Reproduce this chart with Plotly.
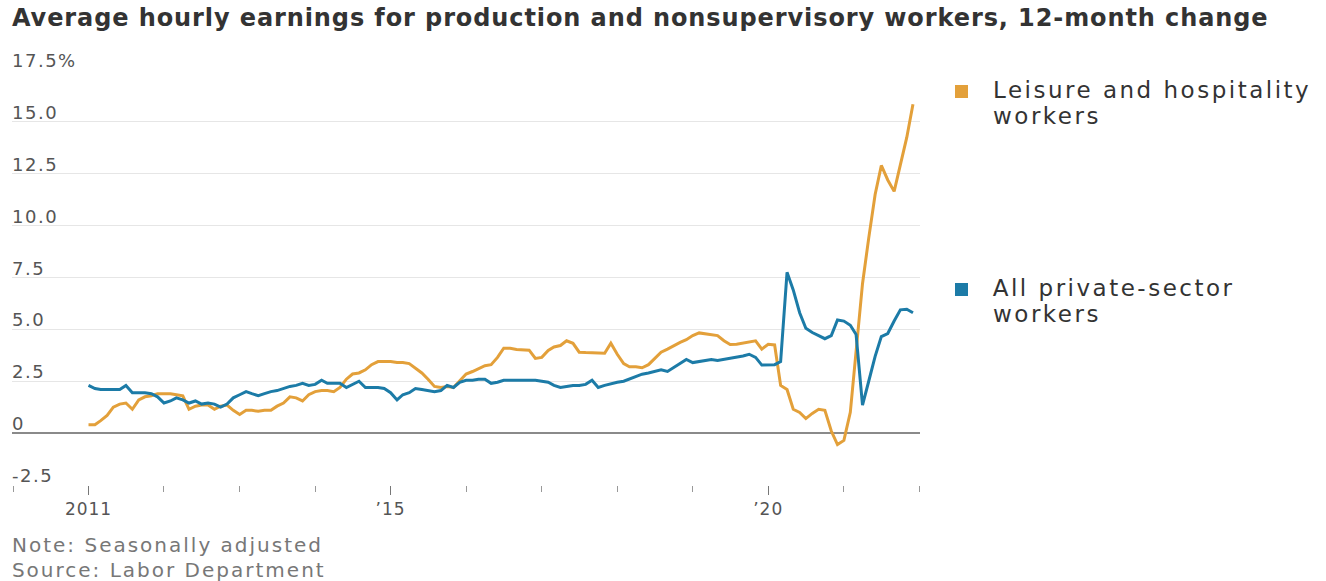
import json

import pandas as pd
import plotly.graph_objects as go

# Monthly 12-month % change, Jan 2011 - Dec 2021
START_MONTH = "2011-01-01"

all_private = [
    2.3, 2.15, 2.1, 2.1, 2.1, 2.1, 2.3, 1.95, 1.95, 1.95, 1.9, 1.75,      # 2011
    1.45, 1.55, 1.7, 1.6, 1.45, 1.55, 1.4, 1.45, 1.4, 1.25, 1.4, 1.7,     # 2012
    1.85, 2.0, 1.9, 1.8, 1.9, 2.0, 2.05, 2.15, 2.25, 2.3, 2.4, 2.3,       # 2013
    2.35, 2.55, 2.4, 2.4, 2.4, 2.2, 2.35, 2.5, 2.2, 2.2, 2.2, 2.15,       # 2014
    1.95, 1.6, 1.85, 1.95, 2.15, 2.1, 2.05, 2.0, 2.05, 2.3, 2.2, 2.45,    # 2015
    2.55, 2.55, 2.6, 2.6, 2.4, 2.45, 2.55, 2.55, 2.55, 2.55, 2.55, 2.55,  # 2016
    2.5, 2.45, 2.3, 2.2, 2.25, 2.3, 2.3, 2.35, 2.55, 2.2, 2.3, 2.38,      # 2017
    2.45, 2.5, 2.6, 2.7, 2.84, 2.9, 2.97, 3.05, 2.97, 3.15, 3.35, 3.55,   # 2018
    3.4, 3.45, 3.5, 3.55, 3.5, 3.55, 3.6, 3.65, 3.72, 3.8, 3.65, 3.28,    # 2019
    3.3, 3.3, 3.45, 7.75, 6.9, 5.8, 5.05, 4.85, 4.7, 4.55, 4.7, 5.45,     # 2020
    5.4, 5.2, 4.75, 1.35, 2.5, 3.7, 4.65, 4.8, 5.4, 5.94, 5.97, 5.8,      # 2021
]

leisure_hospitality = [
    0.4, 0.4, 0.6, 0.85, 1.25, 1.4, 1.45, 1.15, 1.6, 1.75, 1.8, 1.9,      # 2011
    1.9, 1.9, 1.85, 1.8, 1.15, 1.3, 1.35, 1.35, 1.15, 1.3, 1.35, 1.1,     # 2012
    0.9, 1.1, 1.1, 1.05, 1.1, 1.1, 1.3, 1.45, 1.75, 1.7, 1.55, 1.85,      # 2013
    2.0, 2.05, 2.05, 2.0, 2.2, 2.6, 2.85, 2.9, 3.05, 3.3, 3.45, 3.45,     # 2014
    3.45, 3.4, 3.4, 3.35, 3.15, 2.9, 2.6, 2.25, 2.2, 2.25, 2.2, 2.5,      # 2015
    2.85, 2.97, 3.1, 3.25, 3.3, 3.65, 4.09, 4.09, 4.03, 4.01, 4.0, 3.6,   # 2016
    3.65, 3.98, 4.15, 4.22, 4.45, 4.33, 3.9, 3.88, 3.88, 3.85, 3.85, 4.33,# 2017
    3.8, 3.35, 3.2, 3.2, 3.15, 3.3, 3.6, 3.9, 4.05, 4.22, 4.37, 4.5,      # 2018
    4.7, 4.83, 4.78, 4.73, 4.7, 4.45, 4.27, 4.28, 4.33, 4.37, 4.45, 4.05, # 2019
    4.28, 4.25, 2.3, 2.1, 1.15, 1.0, 0.7, 0.95, 1.15, 1.1, 0.1, -0.55,    # 2020
    -0.35, 1.0, 3.8, 7.2, 9.4, 11.5, 12.9, 12.2, 11.65, 13.0, 14.25, 15.85,  # 2021
]

y_ticks = [-2.5, 0, 2.5, 5.0, 7.5, 10.0, 12.5, 15.0, 17.5]
y_tick_text = ["-2.5", "0", "2.5", "5.0", "7.5", "10.0", "12.5", "15.0", "17.5%"]

x_label_dates = ["2011-01-01", "2015-01-01", "2020-01-01"]
x_label_text = ["2011", "\u201915", "\u201920"]

series_lines = [["Leisure and hospitality", "workers"],
                ["All private-sector", "workers"]]

TITLE = "Average hourly earnings for production and nonsupervisory workers, 12-month change"
NOTE = "Note: Seasonally adjusted"
SOURCE = "Source: Labor Department"

ORANGE = "#E3A03A"
BLUE = "#1C7BA7"

months = pd.date_range(START_MONTH, periods=len(all_private), freq="MS")

# Page geometry (pixels) of the plotting area
PAGE_W, PAGE_H = 1326, 581
PLOT_L, PLOT_R, PLOT_T, PLOT_B = 12, 920, 70, 485


def px_x(p):
    return (p - PLOT_L) / (PLOT_R - PLOT_L)


def px_y(p):
    return (PLOT_B - p) / (PLOT_B - PLOT_T)


FONT = "DejaVu Sans"

fig = go.Figure()
fig.add_trace(go.Scatter(x=months, y=leisure_hospitality, mode="lines",
                         line=dict(color=ORANGE, width=3), hoverinfo="x+y",
                         showlegend=False))
fig.add_trace(go.Scatter(x=months, y=all_private, mode="lines",
                         line=dict(color=BLUE, width=3), hoverinfo="x+y",
                         showlegend=False))

annotations = []
letter_spacing = []  # per-annotation tracking, px


def add_text(spacing, **kw):
    kw.setdefault("showarrow", False)
    annotations.append(kw)
    letter_spacing.append(spacing)


# y-axis labels sit just above their gridlines
for v, t in zip(y_ticks, y_tick_text):
    add_text(1.5, x=0, xref="paper", y=v, yref="y", text=t,
             xanchor="left", yanchor="bottom", yshift=-3, xshift=-2,
             font=dict(family=FONT, size=18, color="#555555"))

# Title
add_text(0.9, x=0, xref="paper", y=px_y(18), yref="paper", text=f"<b>{TITLE}</b>",
         xanchor="left", yanchor="middle", xshift=-2,
         font=dict(family=FONT, size=24, color="#333333"))

# Footnotes
for txt, ypix in [(NOTE, 545), (SOURCE, 570)]:
    add_text(2.0, x=0, xref="paper", y=px_y(ypix), yref="paper", text=txt,
             xanchor="left", yanchor="middle", xshift=-2,
             font=dict(family=FONT, size=20, color="#777777"))

# Legend labels with colour keys
shapes = []
legend_first_line = [90, 288]
LINE_PITCH = 26
for lines, color, y0 in zip(series_lines, [ORANGE, BLUE], legend_first_line):
    for k, line in enumerate(lines):
        add_text(2.5, x=px_x(991), xref="paper", y=px_y(y0 + k * LINE_PITCH), yref="paper",
                 text=line, xanchor="left", yanchor="middle",
                 font=dict(family=FONT, size=23, color="#333333"))
    shapes.append(dict(type="rect", xref="paper", yref="paper",
                       x0=px_x(955), x1=px_x(968), y0=px_y(y0 + 8), y1=px_y(y0 - 5),
                       fillcolor=color, line=dict(width=0)))

fig.update_layout(
    width=PAGE_W, height=PAGE_H,
    margin=dict(l=PLOT_L, r=PAGE_W - PLOT_R, t=PLOT_T, b=PAGE_H - PLOT_B),
    paper_bgcolor="white", plot_bgcolor="white",
    annotations=annotations, shapes=shapes,
    xaxis=dict(
        type="date",
        range=["2009-12-27", "2022-01-04"],
        tickvals=x_label_dates, ticktext=x_label_text,
        ticks="outside", ticklen=9, tickwidth=1, tickcolor="#777777",
        tickfont=dict(family=FONT, size=17, color="#555555"),
        minor=dict(ticks="outside", ticklen=6, tickwidth=1, tickcolor="#999999",
                   dtick="M12", tick0="2011-01-01", showgrid=False),
        showgrid=False, zeroline=False, showline=False,
    ),
    yaxis=dict(
        range=[-2.5, 17.5], tickvals=y_ticks, showticklabels=False,
        showgrid=True, gridcolor="#e6e6e6", gridwidth=1,
        zeroline=True, zerolinecolor="#8a8a8a", zerolinewidth=2,
        showline=False,
    ),
)

# Letter spacing for the text blocks; centred SVG text is nudged right by half
# of the added width so that left-anchored labels keep their left edge.
post_js = """
var gd = document.getElementById('{plot_id}');
var spacing = %s;
function track(t, px) {
  if (t.getAttribute('data-tracked')) { return; }
  var w0 = t.getBBox().width;
  t.style.letterSpacing = px + 'px';
  var w1 = t.getBBox().width;
  var x = parseFloat(t.getAttribute('x') || '0');
  t.setAttribute('x', x + (w1 - w0) / 2);
  t.setAttribute('data-tracked', '1');
}
function applySpacing() {
  gd.querySelectorAll('g.annotation').forEach(function (g) {
    var i = +g.getAttribute('data-index');
    var t = g.querySelector('text.annotation-text');
    if (t && spacing[i] != null) { track(t, spacing[i]); }
  });
  gd.querySelectorAll('g.xtick text').forEach(function (t) {
    t.style.letterSpacing = '1px';
  });
}
applySpacing();
gd.on('plotly_afterplot', applySpacing);
""" % json.dumps(letter_spacing)

fig.write_html("out.html", post_script=post_js)
